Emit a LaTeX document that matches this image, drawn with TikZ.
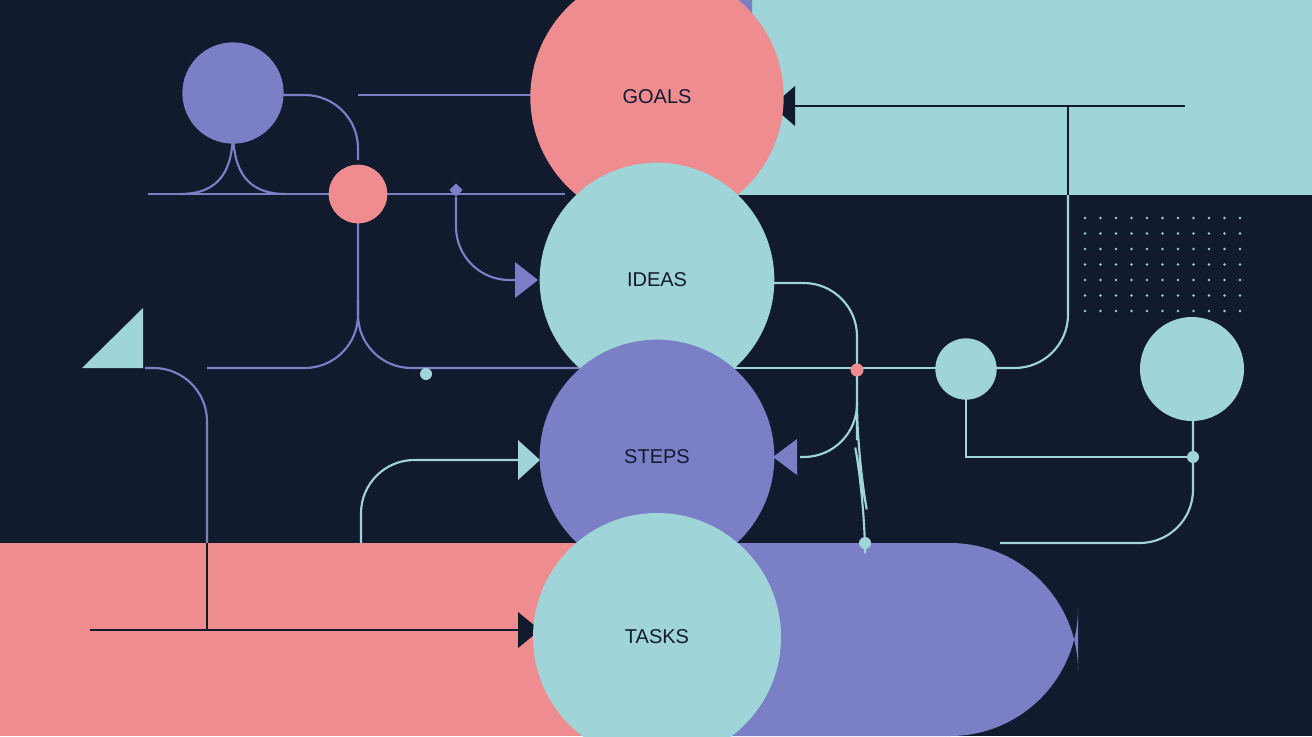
\documentclass[tikz,border=0pt]{standalone}
\usepackage{fontspec}
\usetikzlibrary{shapes.geometric}
\setmainfont{Liberation Sans}
\definecolor{bg}{HTML}{121A2E}
\definecolor{tl}{HTML}{9FD4D8}
\definecolor{pk}{HTML}{EE8C90}
\definecolor{pu}{HTML}{7A7FC6}
\begin{document}
\begin{tikzpicture}[x=0.75pt,y=-0.75pt,
  lab/.style={font=\fontsize{15}{15}\selectfont,text=bg},
  pl/.style={draw=pu,line width=1.6pt},
  tlin/.style={draw=tl,line width=1.6pt},
  dl/.style={draw=bg,line width=1.6pt},
  rc/.style={rounded corners=40}]
\fill[bg] (0,0) rectangle (1312,736);
\useasboundingbox (0,0) rectangle (1312,736);
% top right band
\fill[tl] (690,0) rectangle (1312,195);
\fill[pu,rounded corners=30] (600,-40) rectangle (752,190);
% bottom bands
\fill[pk] (0,543) rectangle (660,736);
\fill[pu] (600,543) [rounded corners=96] -- (1078,543) -- (1078,736) [sharp corners] -- (600,736) -- cycle;
% dot grid
\foreach \i in {0,...,10}{\foreach \j in {0,...,6}{\fill[tl] (1085+\i*15.5,218+\j*15.5) circle (1.3);}}
% purple lines
\draw[pl] (148,194) -- (565,194);
\draw[pl] (233,130) .. controls (233,170) and (220,194) .. (180,194);
\draw[pl] (233,130) .. controls (233,170) and (246,194) .. (286,194);
\draw[pl,rc] (272,95) -- (358,95) -- (358,160);
\draw[pl,rc] (565,95) -- (358,95);
\draw[pl,rc] (358,194) -- (358,368) -- (660,368);
\draw[pl,rc] (358,300) -- (358,368) -- (207,368);
\draw[pl,rc] (145,368) -- (207,368) -- (207,543);
\draw[dl] (207,543) -- (207,630);
\node[fill=pu,diamond,inner sep=2.5pt] (dm) at (456,190) {};
\draw[pl,rc] (dm) -- (456,280) -- (520,280);
\fill[pu] (515,262) -- (538,280) -- (515,298) -- cycle;
% teal lines
\draw[tlin] (660,368) -- (945,368);
\draw[tlin,rc] (768,283) -- (857,283) -- (857,457) -- (800,457);
\draw[tlin,rc] (857,440) -- (857,457) -- (865,500) -- (865,543);
\fill[pu] (797,439) -- (773,457) -- (797,475) -- cycle;
\draw[tlin,rc] (990,368) -- (1068,368) -- (1068,195);
\draw[dl] (1068,195) -- (1068,106);
\draw[dl] (1185,106) -- (795,106);
\fill[bg] (795,86) -- (772,106) -- (795,126) -- cycle;
\draw[tlin] (966,392) -- (966,457) -- (1193,457);
\draw[tlin,rc] (1193,405) -- (1193,543) -- (1000,543);
\draw[tlin,rc] (361,543) -- (361,460) -- (520,460);
\fill[tl] (518,440) -- (540,460) -- (518,480) -- cycle;
\draw[dl] (90,630) -- (520,630);
\fill[bg] (518,612) -- (540,630) -- (518,648) -- cycle;
\fill[tl] (82,368) -- (143,368) -- (143,308) -- cycle;
% dots
\fill[tl] (426,374) circle (6);
\fill[pk] (857,370) circle (6.5);
\fill[tl] (865,543) circle (6);
\fill[tl] (1193,457) circle (6);
% small circles
\node[circle,fill=pu,minimum size=76] (pc) at (233,93) {};
\node[circle,fill=pk,minimum size=44] (pkc) at (358,194) {};
\node[circle,fill=tl,minimum size=46] (tc) at (966,369) {};
\node[circle,fill=tl,minimum size=78] (tc2) at (1192,369) {};
% main circles
\node[circle,fill=pk,minimum size=190,lab] (g) at (657,97) {GOALS};
\node[circle,fill=tl,minimum size=176,lab] (i) at (657,280) {IDEAS};
\node[circle,fill=pu,minimum size=176,lab] (s) at (657,457) {STEPS};
\node[circle,fill=tl,minimum size=186,lab] (t) at (657,637) {TASKS};
\end{tikzpicture}
\end{document}
